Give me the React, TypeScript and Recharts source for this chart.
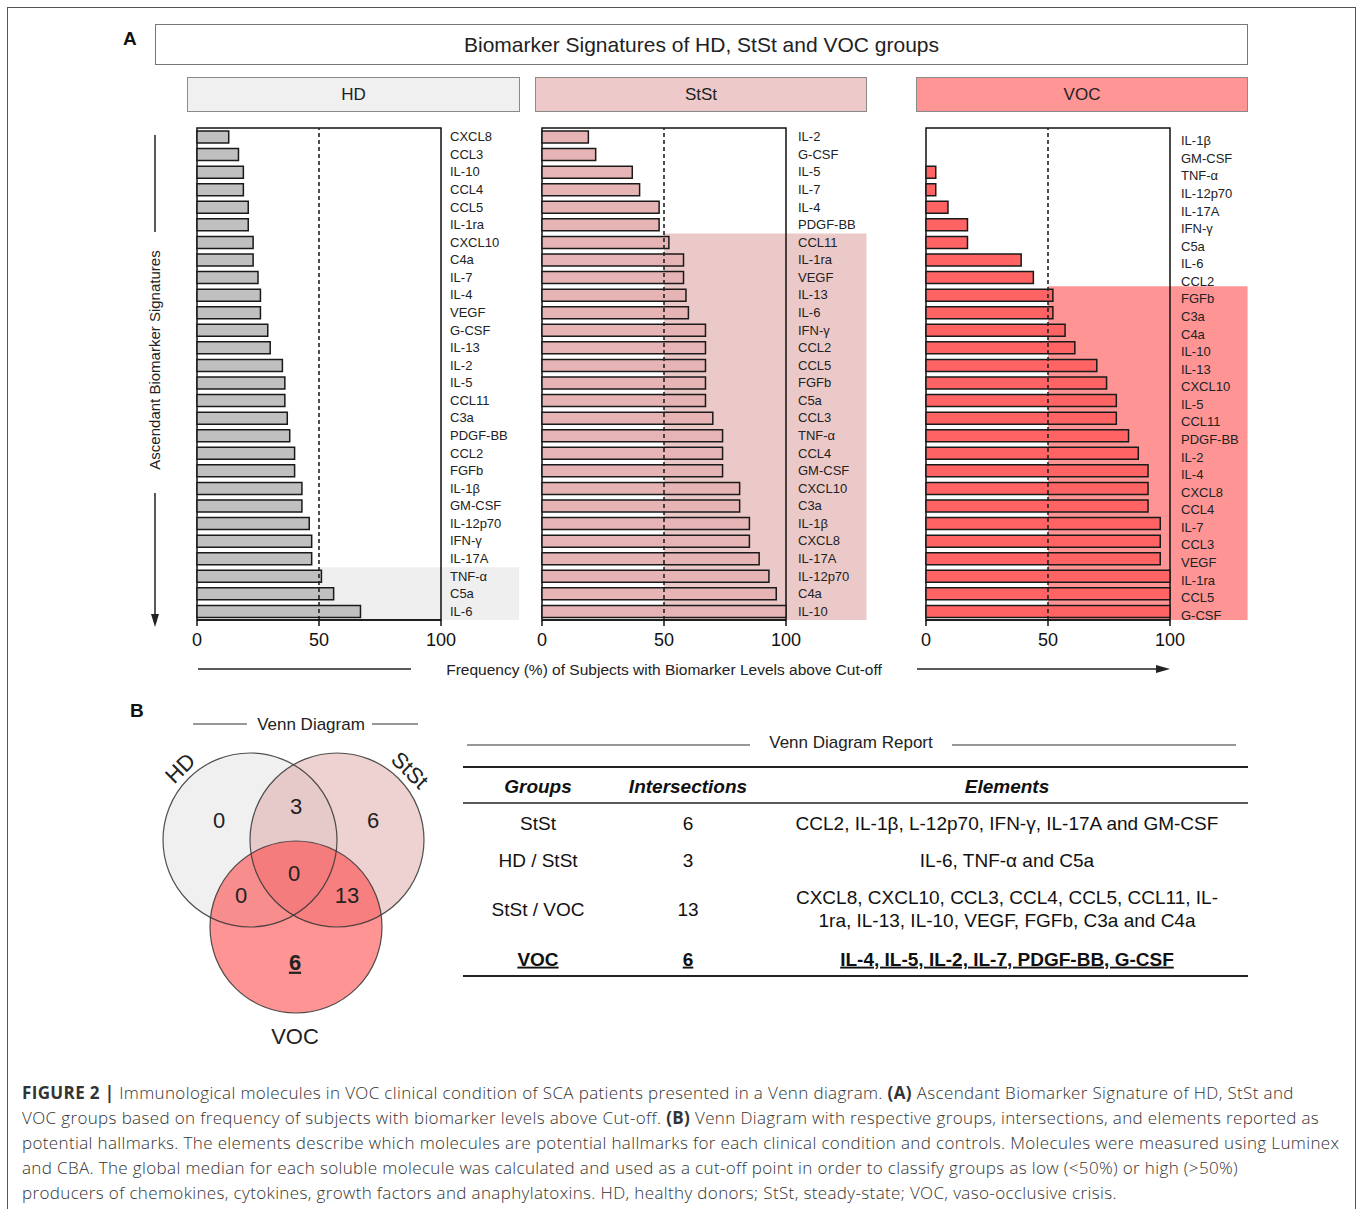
import React from 'react';
import { BarChart, Bar, XAxis, YAxis, ReferenceLine, ReferenceArea } from 'recharts';

const SANS = "'Liberation Sans', Arial, sans-serif";
const NARROW = "'Liberation Sans Narrow', 'Arial Narrow', 'Liberation Sans', sans-serif";
const CAPTION = "'Open Sans', 'Liberation Sans', sans-serif";

// ---- panel A data (ascending order, top to bottom) ----
const hdLabels = ['CXCL8', 'CCL3', 'IL-10', 'CCL4', 'CCL5', 'IL-1ra', 'CXCL10', 'C4a', 'IL-7', 'IL-4', 'VEGF', 'G-CSF', 'IL-13', 'IL-2', 'IL-5', 'CCL11', 'C3a', 'PDGF-BB', 'CCL2', 'FGFb', 'IL-1β', 'GM-CSF', 'IL-12p70', 'IFN-γ', 'IL-17A', 'TNF-α', 'C5a', 'IL-6'];
const hdValues = [13, 17, 19, 19, 21, 21, 23, 23, 25, 26, 26, 29, 30, 35, 36, 36, 37, 38, 40, 40, 43, 43, 46, 47, 47, 51, 56, 67];

const ststLabels = ['IL-2', 'G-CSF', 'IL-5', 'IL-7', 'IL-4', 'PDGF-BB', 'CCL11', 'IL-1ra', 'VEGF', 'IL-13', 'IL-6', 'IFN-γ', 'CCL2', 'CCL5', 'FGFb', 'C5a', 'CCL3', 'TNF-α', 'CCL4', 'GM-CSF', 'CXCL10', 'C3a', 'IL-1β', 'CXCL8', 'IL-17A', 'IL-12p70', 'C4a', 'IL-10'];
const ststValues = [19, 22, 37, 40, 48, 48, 52, 58, 58, 59, 60, 67, 67, 67, 67, 67, 70, 74, 74, 74, 81, 81, 85, 85, 89, 93, 96, 100];

const vocLabels = ['IL-1β', 'GM-CSF', 'TNF-α', 'IL-12p70', 'IL-17A', 'IFN-γ', 'C5a', 'IL-6', 'CCL2', 'FGFb', 'C3a', 'C4a', 'IL-10', 'IL-13', 'CXCL10', 'IL-5', 'CCL11', 'PDGF-BB', 'IL-2', 'IL-4', 'CXCL8', 'CCL4', 'IL-7', 'CCL3', 'VEGF', 'IL-1ra', 'CCL5', 'G-CSF'];
const vocValues = [0, 0, 4, 4, 9, 17, 17, 39, 44, 52, 52, 57, 61, 70, 74, 78, 78, 83, 87, 91, 91, 91, 96, 96, 96, 100, 100, 100];

const xTicks = [0, 50, 100];
const cutOff = 50;

// ---- panel B data ----
const vennGroups = ['HD', 'StSt', 'VOC'];
const vennRegions = ['HD', 'HD/StSt', 'StSt', 'HD/StSt/VOC', 'HD/VOC', 'StSt/VOC', 'VOC'];
const vennCounts = [0, 3, 6, 0, 0, 13, 6];

const tableHeaders = ['Groups', 'Intersections', 'Elements'];
const tableGroups = ['StSt', 'HD / StSt', 'StSt / VOC', 'VOC'];
const tableIntersections = [6, 3, 13, 6];
const tableElements = [
  ['CCL2, IL-1β, L-12p70, IFN-γ, IL-17A and GM-CSF'],
  ['IL-6, TNF-α and C5a'],
  ['CXCL8, CXCL10, CCL3, CCL4, CCL5, CCL11, IL-', '1ra, IL-13, IL-10, VEGF, FGFb, C3a and C4a'],
  ['IL-4, IL-5, IL-2, IL-7, PDGF-BB, G-CSF'],
];

const PLOT_TOP = 128;
const PLOT_H = 492;
const PLOT_W = 244;
const PAD_L = 14;

const CategoryTick = (props: any) => {
  const { x, y, payload, dy } = props;
  return (
    <text x={x} y={y + (dy || 0)} dy="0.35em" textAnchor="start" fontSize={13} fill="#222" fontFamily={SANS}>
      {payload.value}
    </text>
  );
};

interface PanelProps {
  labels: string[];
  values: number[];
  left: number;
  axisWidth: number;
  barFill: string;
  shadeFill: string;
  shadeFrom: string;
  shadeTo: number;
  tickMargin: number;
  tickDy?: number;
}

const Panel: React.FC<PanelProps> = (p) => {
  const data = p.labels.map((name, i) => ({ name, value: p.values[i] }));
  const last = p.labels[p.labels.length - 1];
  return (
    <div style={{ position: 'absolute', left: p.left - PAD_L, top: PLOT_TOP - 2 }}>
      <BarChart
        layout="vertical"
        width={PLOT_W + p.axisWidth + PAD_L + 4}
        height={PLOT_H + 44}
        data={data}
        margin={{ top: 2, left: PAD_L, right: 4, bottom: 0 }}
        barSize={12}
      >
        <XAxis
          type="number"
          dataKey="value"
          domain={[0, 100]}
          ticks={xTicks}
          interval={0}
          height={42}
          tickSize={6}
          tickMargin={7}
          tick={{ fontSize: 18, fill: '#111', fontFamily: NARROW }}
          tickLine={{ stroke: '#111', strokeWidth: 1.5 }}
          axisLine={{ stroke: '#111', strokeWidth: 1.5 }}
        />
        <YAxis
          type="category"
          dataKey="name"
          orientation="right"
          width={p.axisWidth}
          axisLine={false}
          tickLine={false}
          interval={0}
          tickMargin={p.tickMargin}
          tick={<CategoryTick dy={p.tickDy} />}
        />
        <ReferenceArea x1={cutOff} x2={p.shadeTo} y1={p.shadeFrom} y2={last} fill={p.shadeFill} fillOpacity={1} stroke="none" ifOverflow="visible" />
        <ReferenceArea x1={0} x2={100} y1={p.labels[0]} y2={last} fill="none" fillOpacity={0} stroke="#111" strokeWidth={1.5} ifOverflow="visible" />
        <Bar dataKey="value" fill={p.barFill} stroke="#1a1a1a" strokeWidth={1.5} isAnimationActive={false} />
        <ReferenceLine x={cutOff} stroke="#222" strokeDasharray="4 3" strokeWidth={1.6} />
      </BarChart>
    </div>
  );
};

const headerBox = (label: string, left: number, width: number, bg: string) => (
  <div
    key={label}
    style={{
      position: 'absolute', left, top: 77, width, height: 35, boxSizing: 'border-box',
      border: '1.5px solid #8a8a8a', background: bg, display: 'flex', alignItems: 'center',
      justifyContent: 'center', fontSize: 17, color: '#222', fontFamily: SANS,
    }}
  >
    {label}
  </div>
);

// venn layout (svg units, local to the diagram box)
const vennCircles = [
  { cx: 130, cy: 150, r: 87, fill: '#e6e6e6', opacity: 0.55 },
  { cx: 217, cy: 150, r: 87, fill: '#d99a9a', opacity: 0.45 },
  { cx: 176, cy: 237, r: 86, fill: '#ff3c3c', opacity: 0.55 },
];
const vennCountPos = [[99, 130], [176, 116], [253, 130], [174, 183], [121, 205], [227, 205], [175, 272]];

const Venn = () => (
  <svg width={340} height={370} style={{ position: 'absolute', left: 120, top: 690 }}>
    <text x={10} y={27} fontSize={19} fontWeight="bold" fontFamily={SANS} fill="#111">B</text>
    <line x1={73} y1={34} x2={127} y2={34} stroke="#333" strokeWidth={1.2} />
    <line x1={252} y1={34} x2={298} y2={34} stroke="#333" strokeWidth={1.2} />
    <text x={191} y={40} fontSize={17} textAnchor="middle" fontFamily={SANS} fill="#222">Venn Diagram</text>
    <circle cx={vennCircles[0].cx} cy={vennCircles[0].cy} r={vennCircles[0].r} fill="#f0f0f0" stroke="none" />
    {vennCircles.slice(1).map((c, i) => (
      <circle key={i} cx={c.cx} cy={c.cy} r={c.r} fill={c.fill} fillOpacity={c.opacity} stroke="none" />
    ))}
    {vennCircles.map((c, i) => (
      <circle key={'o' + i} cx={c.cx} cy={c.cy} r={c.r} fill="none" stroke="#333" strokeWidth={1.2} strokeOpacity={0.85} />
    ))}
    {vennCounts.map((v, i) => (
      <text
        key={vennRegions[i]}
        x={vennCountPos[i][0]}
        y={vennCountPos[i][1]}
        dy="0.35em"
        fontSize={22}
        textAnchor="middle"
        fontFamily={SANS}
        fill="#222"
        fontWeight={vennRegions[i] === 'VOC' ? 'bold' : 'normal'}
        style={vennRegions[i] === 'VOC' ? { textDecoration: 'underline' } : undefined}
      >
        {v}
      </text>
    ))}
    <text x={60} y={78} dy="0.35em" fontSize={22} textAnchor="middle" fontFamily={SANS} fill="#222" transform="rotate(-45 60 78)">{vennGroups[0]}</text>
    <text x={290} y={80} dy="0.35em" fontSize={22} textAnchor="middle" fontFamily={SANS} fill="#222" transform="rotate(45 290 80)">{vennGroups[1]}</text>
    <text x={175} y={346} dy="0.35em" fontSize={22} textAnchor="middle" fontFamily={SANS} fill="#222">{vennGroups[2]}</text>
  </svg>
);

const colX = [75, 225, 544];
const rowY = [60, 97, 146, 196];

const ReportTable = () => (
  <svg width={800} height={260} style={{ position: 'absolute', left: 463, top: 725 }}>
    <line x1={4} y1={20} x2={287} y2={20} stroke="#333" strokeWidth={1.2} />
    <line x1={489} y1={20} x2={773} y2={20} stroke="#333" strokeWidth={1.2} />
    <text x={388} y={17} dy="0.35em" fontSize={17} textAnchor="middle" fontFamily={NARROW} fill="#222">Venn Diagram Report</text>
    <line x1={0} y1={42} x2={785} y2={42} stroke="#222" strokeWidth={2} />
    {tableHeaders.map((h, i) => (
      <text key={h} x={colX[i]} y={61} dy="0.35em" fontSize={19} fontWeight="bold" fontStyle="italic" textAnchor="middle" fontFamily={NARROW} fill="#111">{h}</text>
    ))}
    <line x1={0} y1={78} x2={785} y2={78} stroke="#222" strokeWidth={1.5} />
    {tableGroups.map((g, r) => {
      const last = r === tableGroups.length - 1;
      const st: React.CSSProperties = last ? { textDecoration: 'underline' } : {};
      const cy = rowY[r] + 38;
      const lines = tableElements[r];
      return (
        <g key={g} fontFamily={NARROW} fontSize={19} fill="#111" fontWeight={last ? 'bold' : 'normal'}>
          <text x={colX[0]} y={cy} dy="0.35em" textAnchor="middle" style={st}>{g}</text>
          <text x={colX[1]} y={cy} dy="0.35em" textAnchor="middle" style={st}>{tableIntersections[r]}</text>
          {lines.map((ln, k) => (
            <text key={k} x={colX[2]} y={cy + (k - (lines.length - 1) / 2) * 23} dy="0.35em" textAnchor="middle" style={st}>{ln}</text>
          ))}
        </g>
      );
    })}
    <line x1={0} y1={251} x2={785} y2={251} stroke="#222" strokeWidth={2} />
  </svg>
);

const B: React.CSSProperties = { fontWeight: 700 };
const captionLines: React.ReactNode[] = [
  <><span style={B}>FIGURE 2 |</span> Immunological molecules in VOC clinical condition of SCA patients presented in a Venn diagram. <span style={B}>(A)</span> Ascendant Biomarker Signature of HD, StSt and</>,
  <>VOC groups based on frequency of subjects with biomarker levels above Cut-off. <span style={B}>(B)</span> Venn Diagram with respective groups, intersections, and elements reported as</>,
  <>potential hallmarks. The elements describe which molecules are potential hallmarks for each clinical condition and controls. Molecules were measured using Luminex</>,
  <>and CBA. The global median for each soluble molecule was calculated and used as a cut-off point in order to classify groups as low (&lt;50%) or high (&gt;50%)</>,
  <>producers of chemokines, cytokines, growth factors and anaphylatoxins. HD, healthy donors; StSt, steady-state; VOC, vaso-occlusive crisis.</>,
];

export default function App() {
  return (
    <div style={{ position: 'absolute', left: 0, top: 0, width: 1364, height: 1209, overflow: 'hidden', background: '#fff', fontFamily: SANS }}>
      <div style={{ position: 'absolute', left: 7, top: 7, width: 1349, height: 1210, border: '1px solid #555', boxSizing: 'border-box' }} />

      <div style={{ position: 'absolute', left: 123, top: 28, fontSize: 19, fontWeight: 'bold', color: '#111' }}>A</div>
      <div
        style={{
          position: 'absolute', left: 155, top: 24, width: 1093, height: 41, boxSizing: 'border-box',
          border: '1.5px solid #777', display: 'flex', alignItems: 'center', justifyContent: 'center',
          fontSize: 21, color: '#222',
        }}
      >
        Biomarker Signatures of HD, StSt and VOC groups
      </div>
      {headerBox('HD', 187, 333, '#f0f0f0')}
      {headerBox('StSt', 535, 332, '#edc9c9')}
      {headerBox('VOC', 916, 332, '#ff9595')}

      <Panel labels={hdLabels} values={hdValues} left={197} axisWidth={78} barFill="#c0c0c0" shadeFill="#efefef" shadeFrom="TNF-α" shadeTo={132} tickMargin={3} />
      <Panel labels={ststLabels} values={ststValues} left={541.5} axisWidth={81} barFill="#e6b4b4" shadeFill="#ecc9c9" shadeFrom="CCL11" shadeTo={133} tickMargin={6} />
      <Panel labels={vocLabels} values={vocValues} left={925.5} axisWidth={78} barFill="#ff6363" shadeFill="#ff9494" shadeFrom="FGFb" shadeTo={131.8} tickMargin={5} tickDy={4} />

      {/* left axis title */}
      <svg width={30} height={510} style={{ position: 'absolute', left: 140, top: 125 }}>
        <line x1={15} y1={10} x2={15} y2={107} stroke="#222" strokeWidth={1.5} />
        <text x={15} y={235} dy="0.35em" fontSize={15} textAnchor="middle" fill="#222" fontFamily={SANS} transform="rotate(-90 15 235)">Ascendant Biomarker Signatures</text>
        <line x1={15} y1={368} x2={15} y2={492} stroke="#222" strokeWidth={1.5} />
        <path d="M11,489 L15,502 L19,489 Z" fill="#222" />
      </svg>

      {/* bottom axis title */}
      <svg width={1000} height={30} style={{ position: 'absolute', left: 190, top: 655 }}>
        <line x1={8} y1={14} x2={221} y2={14} stroke="#222" strokeWidth={1.5} />
        <text x={474} y={15} dy="0.35em" fontSize={15.5} textAnchor="middle" fill="#222" fontFamily={NARROW}>Frequency (%) of Subjects  with  Biomarker Levels above Cut-off</text>
        <line x1={727} y1={14} x2={970} y2={14} stroke="#222" strokeWidth={1.5} />
        <path d="M966,10 L980,14 L966,18 Z" fill="#222" />
      </svg>

      <Venn />
      <ReportTable />

      <div style={{ position: 'absolute', left: 22, top: 1080, fontFamily: CAPTION, fontSize: 17, letterSpacing: 0.36, color: '#333', lineHeight: '25px', whiteSpace: 'nowrap', fontWeight: 300 }}>
        {captionLines.map((ln, i) => (
          <div key={i}>{ln}</div>
        ))}
      </div>
    </div>
  );
}
